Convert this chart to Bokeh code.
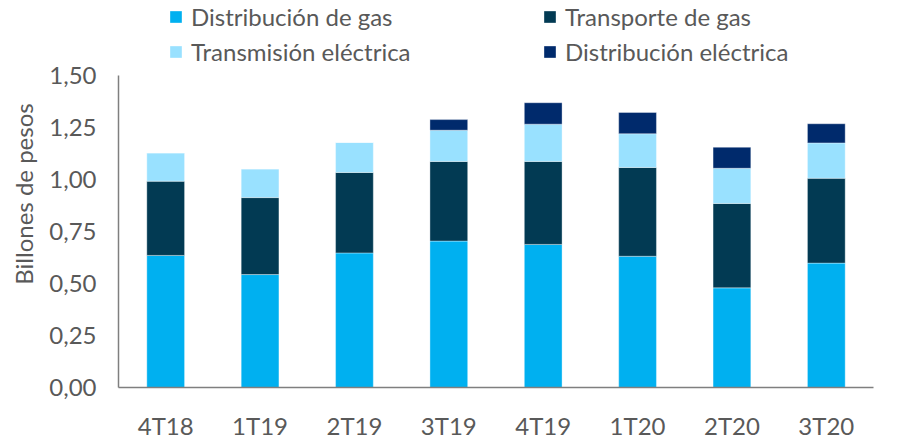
from bokeh.plotting import figure
from bokeh.models import ColumnDataSource, Legend, LegendItem, FixedTicker, CustomJSTickFormatter, Range1d
from bokeh.embed import file_html
from bokeh.resources import INLINE

quarters = ["4T18", "1T19", "2T19", "3T19", "4T19", "1T20", "2T20", "3T20"]
dist_gas = [0.635, 0.543, 0.647, 0.704, 0.688, 0.631, 0.479, 0.598]
transp_gas = [0.357, 0.370, 0.387, 0.383, 0.399, 0.427, 0.406, 0.408]
transm_elec = [0.136, 0.138, 0.144, 0.150, 0.179, 0.162, 0.169, 0.170]
dist_elec = [0.0, 0.0, 0.0, 0.051, 0.103, 0.102, 0.101, 0.092]
y_ticks = [0, 0.25, 0.5, 0.75, 1.0, 1.25, 1.5]

series = ["Distribución de gas", "Transporte de gas", "Transmisión eléctrica", "Distribución eléctrica"]
keys = ["dg", "tg", "te", "de"]
colors = ["#00B0F0", "#023A53", "#99E1FF", "#002A6C"]

FONT = "Lato"
GREY = "#595959"
FS = "24px"

src = ColumnDataSource(dict(q=quarters, dg=dist_gas, tg=transp_gas, te=transm_elec, de=dist_elec))

# frame spans the full height above the x axis; extra headroom holds the legend
p = figure(x_range=quarters, y_range=Range1d(0, 1.5 + 75 / 208), width=908, height=443,
           output_backend="svg", toolbar_location=None,
           min_border_left=118, min_border_right=35, min_border_top=0, min_border_bottom=56)

rs = p.vbar_stack(keys, x="q", width=0.4, color=colors, line_color="white", line_width=0.6,
                  line_alpha=0.6, source=src)

p.outline_line_color = None
p.grid.grid_line_color = None

p.yaxis.ticker = FixedTicker(ticks=y_ticks)
p.yaxis.bounds = (0, 1.5)
p.yaxis.formatter = CustomJSTickFormatter(code="return tick.toFixed(2).replace('.', ',');")
for ax in (p.xaxis, p.yaxis):
    ax.major_tick_line_color = None
    ax.minor_tick_line_color = None
    ax.axis_line_color = "#7F7F7F"
    ax.axis_line_width = 1.5
    ax.major_label_text_font = FONT
    ax.major_label_text_font_size = FS
    ax.major_label_text_color = GREY
p.xaxis.major_label_standoff = 17
p.yaxis.major_label_standoff = 16
p.yaxis.axis_label = "Billones de pesos"
p.yaxis.axis_label_text_font = FONT
p.yaxis.axis_label_text_font_size = FS
p.yaxis.axis_label_text_font_style = "normal"
p.yaxis.axis_label_text_color = GREY
p.yaxis.axis_label_standoff = 8

# column-major order: column 1 = Distribución de gas / Transmisión eléctrica
order = [0, 2, 1, 3]
items = [LegendItem(label=series[i], renderers=[rs[i]]) for i in order]
legend = Legend(items=items, ncols=2, location=(50, 321), orientation="vertical",
                label_text_font=FONT, label_text_font_size=FS, label_text_color=GREY,
                glyph_width=15, glyph_height=15, label_standoff=8, label_width=345,
                label_height=24, spacing=6, padding=0, margin=0,
                border_line_color=None, background_fill_alpha=0)
p.add_layout(legend, "center")

open("out.html", "w").write(file_html(p, INLINE))
